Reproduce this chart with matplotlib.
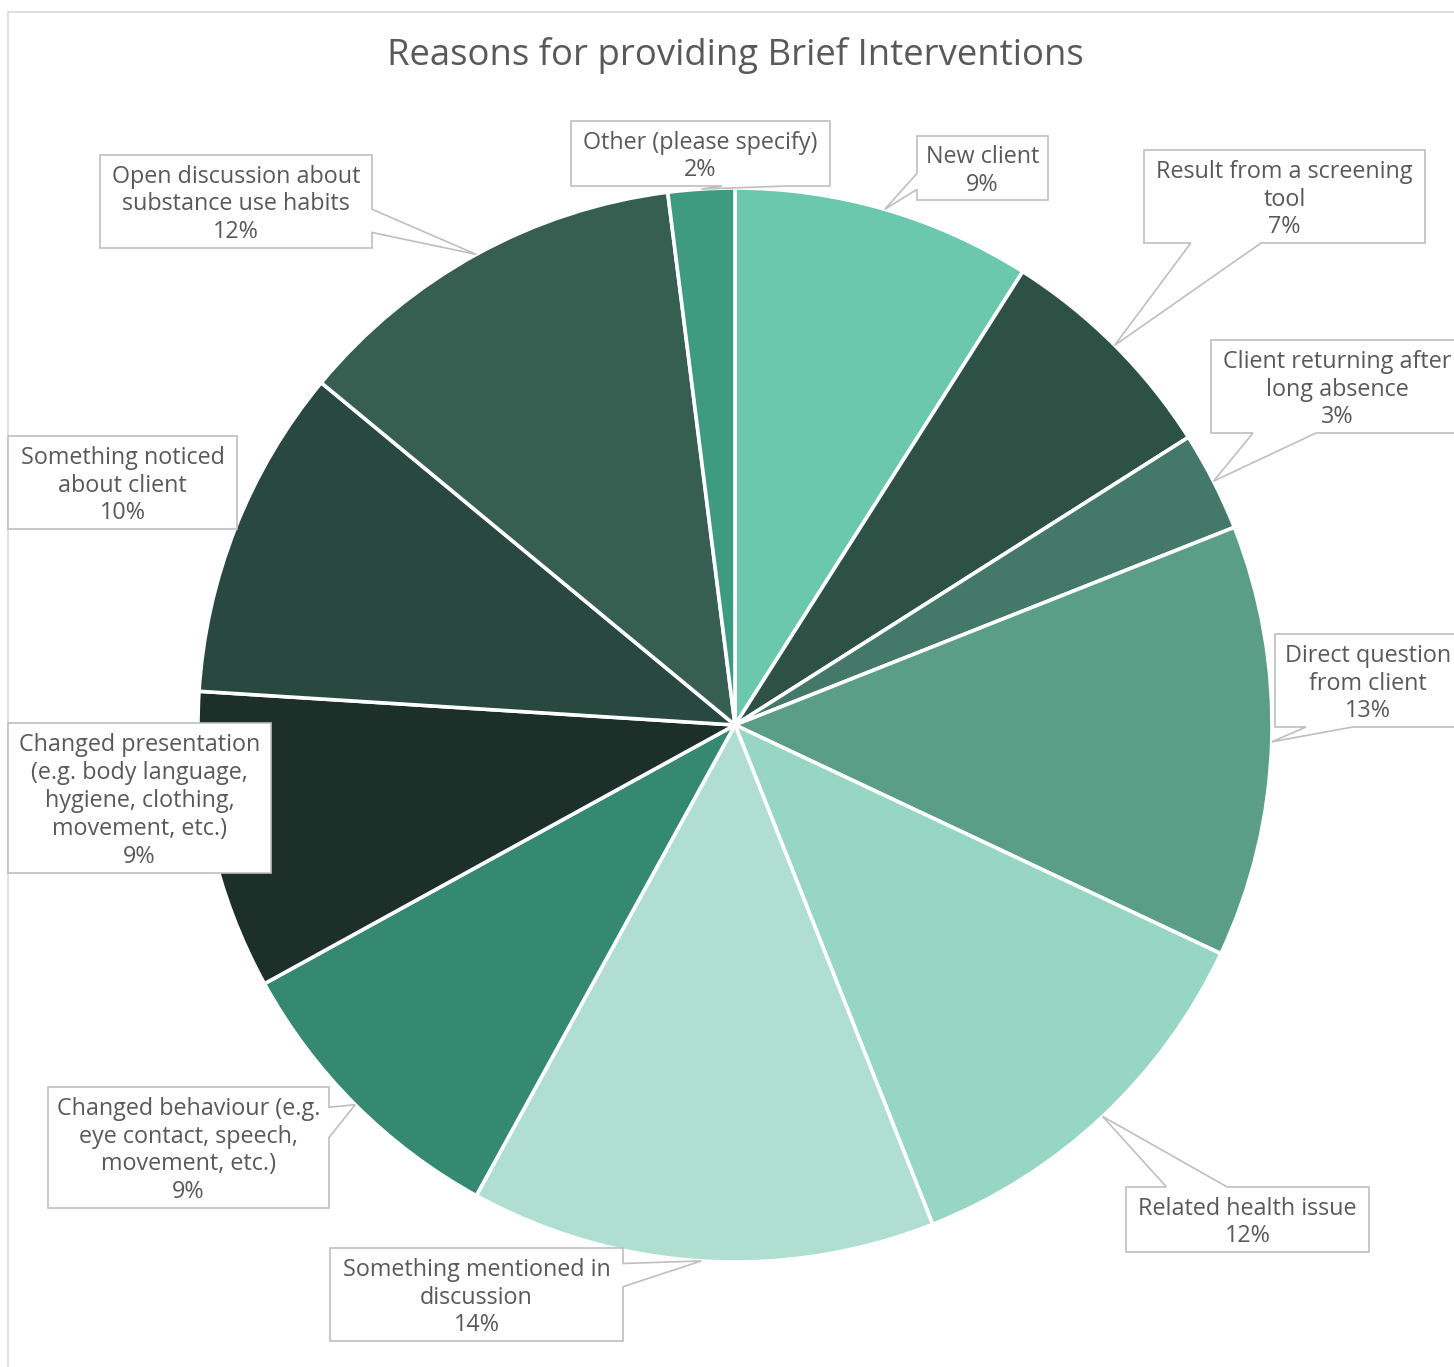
import matplotlib
matplotlib.use("Agg")
import matplotlib.pyplot as plt
import numpy as np
from matplotlib.patches import Polygon, Rectangle

WIDTH, HEIGHT = 1454, 1367
DPI = 100
FONT = ["Open Sans", "DejaVu Sans"]
TEXT_COLOR = "#595959"

# survey answers, clockwise from twelve o'clock
reasons = [
    "New client",
    "Result from a screening\ntool",
    "Client returning after\nlong absence",
    "Direct question\nfrom client",
    "Related health issue",
    "Something mentioned in\ndiscussion",
    "Changed behaviour (e.g.\neye contact, speech,\nmovement, etc.)",
    "Changed presentation\n(e.g. body language,\nhygiene, clothing,\nmovement, etc.)",
    "Something noticed\nabout client",
    "Open discussion about\nsubstance use habits",
    "Other (please specify)",
]
shares = [9, 7, 3, 13, 12, 14, 9, 9, 10, 12, 2]

slice_colors = [
    "#6cc8ad", "#2d5145", "#447868", "#5a9e88", "#98d6c4", "#b0dfd2",
    "#348970", "#1c2f28", "#294840", "#365f51", "#3e9b80",
]

# label boxes in pixel space (left, top, right, bottom)
label_boxes = [
    (917, 136, 1048, 200),
    (1144, 150, 1425, 243),
    (1211, 340, 1463, 433),
    (1275, 634, 1461, 727),
    (1126, 1187, 1369, 1252),
    (330, 1248, 623, 1341),
    (48, 1087, 329, 1208),
    (8, 723, 271, 873),
    (8, 436, 237, 529),
    (100, 155, 372, 248),
    (571, 121, 830, 186),
]

CX, CY, RADIUS = 735, 725, 537


def callout_outline(box, tip):
    """Outline of a rectangular callout whose wedge points at tip (y down)."""
    l, t, r, b = box
    w, h = r - l, b - t
    dx = tip[0] - (l + r) / 2
    dy = tip[1] - (t + b) / 2
    inside = l <= tip[0] <= r and t <= tip[1] <= b
    vertical = abs(dy) > abs(dx * h / w)
    xg = (7, 10) if dx > 0 else (2, 5)
    yg = (7, 10) if dy > 0 else (2, 5)
    x1, x2 = l + w * xg[0] / 12, l + w * xg[1] / 12
    y1, y2 = t + h * yg[0] / 12, t + h * yg[1] / 12

    pts = [(l, t)]
    if not inside and vertical and dy < 0:
        pts += [(x1, t), tip, (x2, t)]
    pts.append((r, t))
    if not inside and not vertical and dx > 0:
        pts += [(r, y1), tip, (r, y2)]
    pts.append((r, b))
    if not inside and vertical and dy > 0:
        pts += [(x2, b), tip, (x1, b)]
    pts.append((l, b))
    if not inside and not vertical and dx < 0:
        pts += [(l, y2), tip, (l, y1)]
    return pts


fig = plt.figure(figsize=(WIDTH / DPI, HEIGHT / DPI), dpi=DPI)
ax = fig.add_axes([0, 0, 1, 1])

ax.pie(shares, colors=slice_colors, startangle=90, counterclock=False,
       center=(CX, HEIGHT - CY), radius=RADIUS,
       wedgeprops=dict(edgecolor="white", linewidth=2.6))
ax.set_xlim(0, WIDTH)
ax.set_ylim(0, HEIGHT)
ax.set_aspect("equal")
ax.axis("off")

# chart area frame
ax.add_patch(Rectangle((8, HEIGHT - 1380), 1460, 1368, fill=False,
                       edgecolor="#d9d9d9", linewidth=1.2, zorder=0))

ax.text(735, HEIGHT - 56, "Reasons for providing Brief Interventions",
        ha="center", va="center", fontsize=26.3, color=TEXT_COLOR,
        family=FONT)

shares_arr = np.array(shares, dtype=float)
mids = np.cumsum(shares_arr) - shares_arr / 2
angles = np.radians(90 - 360 * mids / shares_arr.sum())

for reason, share, box, ang in zip(reasons, shares, label_boxes, angles):
    tip = (CX + RADIUS * np.cos(ang), CY - RADIUS * np.sin(ang))
    outline = [(x, HEIGHT - y) for x, y in callout_outline(box, tip)]
    ax.add_patch(Polygon(outline, closed=True, facecolor="white",
                         edgecolor="#bfbfbf", linewidth=1.2, zorder=5))
    l, t, r, b = box
    ax.text((l + r) / 2, HEIGHT - (t + b) / 2 - 3, f"{reason}\n{share}%",
            ha="center", va="center", multialignment="center",
            fontsize=16.8, linespacing=1.22, color=TEXT_COLOR, family=FONT,
            zorder=6)

fig.savefig("out.png", dpi=DPI)
